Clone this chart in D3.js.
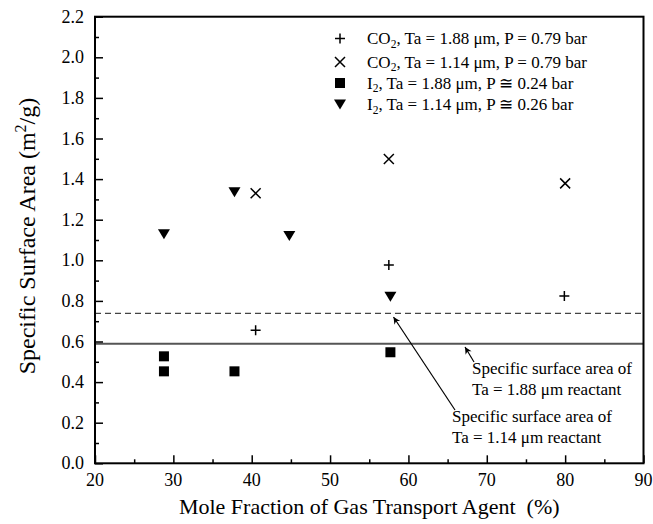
<!DOCTYPE html>
<html><head><meta charset="utf-8">
<script src="https://cdn.jsdelivr.net/npm/d3@7"></script>
<style>body{margin:0;background:#fff}svg{display:block}text{font-family:"Liberation Serif","Times New Roman",serif;fill:#000}</style>
</head><body><div id="chart"></div>
<script>
// Data
const co2_188 = [[40.5,0.655],[57.5,0.977],[79.9,0.824]];
const co2_114 = [[40.5,1.33],[57.5,1.499],[80.0,1.379]];
const i2_188 = [[28.8,0.527],[28.8,0.453],[37.8,0.453],[57.7,0.547]];
const i2_114 = [[28.8,1.128],[37.8,1.335],[44.8,1.12],[57.7,0.82]];
const refLine188 = 0.589;
const refLine114 = 0.739;
const xTicks = [20,30,40,50,60,70,80,90];
const yTicks = [0,0.2,0.4,0.6,0.8,1.0,1.2,1.4,1.6,1.8,2.0,2.2];

const W=653,H=524;
const m={l:95,r:653-643.5,t:16.7,b:524-463.3};
const svg=d3.select("#chart").append("svg").attr("width",W).attr("height",H);
const x=d3.scaleLinear().domain([20,90]).range([m.l,W-m.r]);
const y=d3.scaleLinear().domain([0,2.2]).range([H-m.b,m.t]);

// reference lines
svg.append("line").attr("x1",x(20)).attr("x2",x(90)).attr("y1",y(refLine114)).attr("y2",y(refLine114))
  .attr("stroke","#444").attr("stroke-width",1.2).attr("stroke-dasharray","6,4");
svg.append("line").attr("x1",x(20)).attr("x2",x(90)).attr("y1",y(refLine188)).attr("y2",y(refLine188))
  .attr("stroke","#555").attr("stroke-width",1.8);

// axes: ticks inward
const gx=svg.append("g").attr("transform",`translate(0,${y(0)})`)
  .call(d3.axisTop(x).tickValues(d3.range(20,91,5)).tickSize(8).tickFormat(""));
gx.selectAll(".tick line").attr("y2",d=>d%10===0?-8:-4).attr("stroke-width",1.5);
gx.select(".domain").remove();
svg.append("g").selectAll("text").data(xTicks).join("text").attr("x",d=>x(d)).attr("y",y(0)+23)
  .attr("text-anchor","middle").attr("font-size",18).text(d=>d);

const gy=svg.append("g").attr("transform",`translate(${x(20)},0)`)
  .call(d3.axisRight(y).tickValues(d3.range(0,23).map(i=>i/10)).tickFormat(""));
gy.selectAll(".tick line").attr("x2",(d,i)=>i%2===0?8:4).attr("stroke-width",1.5);
gy.select(".domain").remove();
svg.append("g").selectAll("text").data(yTicks).join("text").attr("x",x(20)-11).attr("y",d=>y(d)+6)
  .attr("text-anchor","end").attr("font-size",18).text(d=>d3.format(".1f")(d));

// frame
svg.append("rect").attr("x",x(20)).attr("y",y(2.2)).attr("width",x(90)-x(20)).attr("height",y(0)-y(2.2))
  .attr("fill","none").attr("stroke","#000").attr("stroke-width",2);

// markers
const g=svg.append("g");
function drawPlus(data){
  g.selectAll(null).data(data).join("path")
   .attr("d",d=>`M${x(d[0])-5},${y(d[1])}h10M${x(d[0])},${y(d[1])-5}v10`)
   .attr("stroke","#000").attr("stroke-width",1.5).attr("fill","none");
}
function drawX(data){
  g.selectAll(null).data(data).join("path")
   .attr("d",d=>`M${x(d[0])-5},${y(d[1])-5}l10,10M${x(d[0])-5},${y(d[1])+5}l10,-10`)
   .attr("stroke","#000").attr("stroke-width",1.5).attr("fill","none");
}
function drawSq(data){
  g.selectAll(null).data(data).join("rect")
   .attr("x",d=>x(d[0])-5).attr("y",d=>y(d[1])-5).attr("width",10).attr("height",10).attr("fill","#000");
}
function drawTri(data){
  g.selectAll(null).data(data).join("path")
   .attr("d",d=>`M${x(d[0])-6},${y(d[1])-5}h12l-6,10z`).attr("fill","#000");
}
drawPlus(co2_188);drawX(co2_114);drawSq(i2_188);drawTri(i2_114);

// legend
const lx=340, ly=[38.5,62,83,104.5], tx=367;
const lg=svg.append("g");
lg.append("path").attr("d",`M${lx-5},${ly[0]}h10M${lx},${ly[0]-5}v10`).attr("stroke","#000").attr("stroke-width",1.5);
lg.append("path").attr("d",`M${lx-5},${ly[1]-5}l10,10M${lx-5},${ly[1]+5}l10,-10`).attr("stroke","#000").attr("stroke-width",1.5);
lg.append("rect").attr("x",lx-5).attr("y",ly[2]-5).attr("width",10).attr("height",10);
lg.append("path").attr("d",`M${lx-6},${ly[3]-5}h12l-6,10z`);
const legItems=[["CO","2",", Ta = 1.88 μm, P = 0.79 bar"],["CO","2",", Ta = 1.14 μm, P = 0.79 bar"],
 ["I","2",", Ta = 1.88 μm, P ≅ 0.24 bar"],["I","2",", Ta = 1.14 μm, P ≅ 0.26 bar"]];
legItems.forEach((it,i)=>{
  const t=lg.append("text").attr("x",tx).attr("y",ly[i]+5.5).attr("font-size",17);
  t.append("tspan").text(it[0]);
  t.append("tspan").attr("dy",3.5).attr("font-size",11.5).text(it[1]);
  t.append("tspan").attr("dy",-3.5).text(it[2]);
});

// annotations
svg.append("defs").append("marker").attr("id","ah").attr("viewBox","0 0 10 10").attr("refX",10).attr("refY",5)
 .attr("markerWidth",9).attr("markerHeight",7).attr("orient","auto").attr("markerUnits","userSpaceOnUse")
 .append("path").attr("d","M0,0L10,5L0,10L3,5z").attr("fill","#000");
svg.append("line").attr("x1",455).attr("y1",410).attr("x2",393.5).attr("y2",317)
 .attr("stroke","#000").attr("stroke-width",1.2).attr("marker-end","url(#ah)");
svg.append("line").attr("x1",474).attr("y1",362).attr("x2",465).attr("y2",347)
 .attr("stroke","#000").attr("stroke-width",1.2).attr("marker-end","url(#ah)");
const ann=[[472,374,"Specific surface area of"],[472,395,"Ta = 1.88 μm reactant"],
 [452,422,"Specific surface area of"],[452,443,"Ta = 1.14 μm reactant"]];
svg.append("g").selectAll("text").data(ann).join("text").attr("x",d=>d[0]).attr("y",d=>d[1])
 .attr("font-size",17).text(d=>d[2]);

// axis titles
svg.append("text").attr("x",(x(20)+x(90))/2).attr("y",514).attr("text-anchor","middle").attr("font-size",22)
 .attr("xml:space","preserve").style("white-space","pre")
 .text("Mole Fraction of Gas Transport Agent  (%)");
const yt=svg.append("text").attr("transform",`translate(35,236) rotate(-90)`)
 .attr("text-anchor","middle").attr("font-size",24);
yt.append("tspan").text("Specific Surface Area (m");
yt.append("tspan").attr("dy",-9).attr("font-size",16).text("2");
yt.append("tspan").attr("dy",9).text("/g)");
</script></body></html>
